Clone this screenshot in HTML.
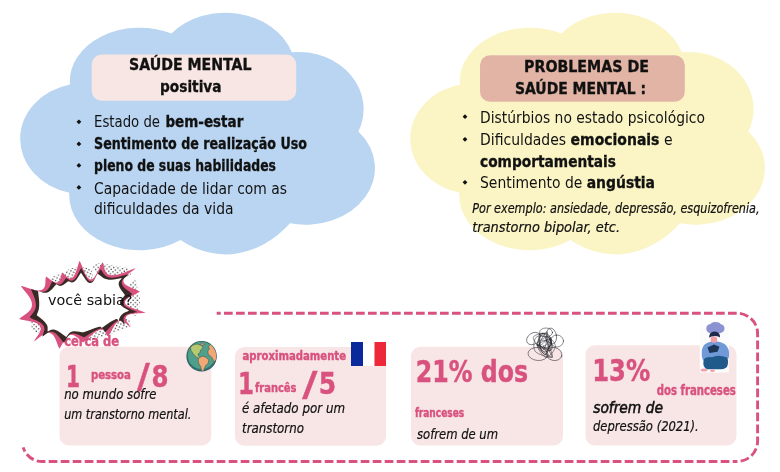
<!DOCTYPE html>
<html><head><meta charset="utf-8">
<style>
html,body{margin:0;padding:0;background:#fff;}
body{width:780px;height:472px;overflow:hidden;position:relative;}
svg{position:absolute;left:0;top:0;}
text{font-family:"DejaVu Sans Condensed","DejaVu Sans","Liberation Sans",sans-serif;fill:#111;}
.b{font-weight:bold;stroke:#111;stroke-width:0.3;}
.i{font-style:italic;stroke:#111;stroke-width:0.2;}
.p{fill:#d9527f;font-weight:bold;stroke:#d9527f;stroke-width:0.4;}
.v{font-family:"DejaVu Sans","Liberation Sans",sans-serif;}
</style></head><body>
<svg width="780" height="472" viewBox="0 0 780 472">
<defs>
<pattern id="dots" width="4.4" height="4.4" patternUnits="userSpaceOnUse"><circle cx="1.1" cy="1.1" r="0.7" fill="#222"/><circle cx="3.3" cy="3.3" r="0.7" fill="#222"/></pattern>
<clipPath id="gc"><circle cx="201.6" cy="356.2" r="14.6"/></clipPath>
<clipPath id="hull"><path d="M22.6,286.2 L47.0,277.3 L62.6,273.4 L79.6,262.0 L101.8,263.4 L133.9,269.2 L138.1,291.8 L143.7,312.4 L129.3,326.7 L107.2,335.5 L83.1,341.2 L60.1,347.3 L35.5,340.1 L21.0,318.6Z"/></clipPath>
</defs>
<!-- clouds -->
<path d="M70.0,84.5 A69.9,53.5 0 0 1 171.5,33.5 A70.0,57.7 0 0 1 291.8,52.2 A65.1,57.2 0 0 1 358.4,131.5 A69.3,56.5 0 0 1 290.0,223.2 A103.3,143.2 0 0 1 180.5,240.0 A70.4,55.1 0 0 1 69.3,192.7 A64.3,55.6 0 0 1 70.0,84.5Z" fill="#b9d5f1"/>
<path d="M70.0,84.5 A69.9,53.5 0 0 1 171.5,33.5 A70.0,57.7 0 0 1 291.8,52.2 A65.1,57.2 0 0 1 358.4,131.5 A69.3,56.5 0 0 1 290.0,223.2 A103.3,143.2 0 0 1 180.5,240.0 A70.4,55.1 0 0 1 69.3,192.7 A64.3,55.6 0 0 1 70.0,84.5Z" transform="translate(390,0)" fill="#fbf5c5"/>
<!-- title boxes -->
<rect x="91.7" y="54.6" width="204.5" height="46.2" rx="10" fill="#f7e6e3"/>
<rect x="480" y="55.3" width="204.8" height="46.4" rx="10" fill="#e1b4a6"/>
<text class="b" font-size="15.2" x="129" y="70" textLength="122.5" lengthAdjust="spacingAndGlyphs">SAÚDE MENTAL</text>
<text class="b" font-size="15.2" x="160" y="91.5" textLength="61.5" lengthAdjust="spacingAndGlyphs">positiva</text>
<text font-size="15.2" x="94" y="127.2" textLength="66.0" lengthAdjust="spacingAndGlyphs">Estado de</text>
<text class="b" font-size="15.2" x="165.4" y="127.2" textLength="77.9" lengthAdjust="spacingAndGlyphs">bem-estar</text>
<text class="b" font-size="15.2" x="94" y="148.8" textLength="213.0" lengthAdjust="spacingAndGlyphs">Sentimento de realização Uso</text>
<text class="b" font-size="15.2" x="94" y="171.2" textLength="182.0" lengthAdjust="spacingAndGlyphs">pleno de suas habilidades</text>
<text font-size="15.2" x="94" y="193.6" textLength="193.0" lengthAdjust="spacingAndGlyphs">Capacidade de lidar com as</text>
<text font-size="15.2" x="94" y="213.6" textLength="139.5" lengthAdjust="spacingAndGlyphs">dificuldades da vida</text>
<text class="b" font-size="15.2" x="524" y="72" textLength="125.0" lengthAdjust="spacingAndGlyphs">PROBLEMAS DE</text>
<text class="b" font-size="15.2" x="515" y="94" textLength="131.0" lengthAdjust="spacingAndGlyphs">SAÚDE MENTAL :</text>
<text font-size="15.2" x="480" y="122.5" textLength="225.0" lengthAdjust="spacingAndGlyphs">Distúrbios no estado psicológico</text>
<text font-size="15.2" x="480" y="145" textLength="192.5" lengthAdjust="spacingAndGlyphs">Dificuldades <tspan class="b">emocionais</tspan> e</text>
<text class="b" font-size="15.2" x="480" y="167" textLength="136.0" lengthAdjust="spacingAndGlyphs">comportamentais</text>
<text font-size="15.2" x="480" y="188" textLength="175.0" lengthAdjust="spacingAndGlyphs">Sentimento de <tspan class="b">angústia</tspan></text>
<text class="i" font-size="13.7" x="472.3" y="212.8" textLength="287.2" lengthAdjust="spacingAndGlyphs">Por exemplo: ansiedade, depressão, esquizofrenia,</text>
<text class="i" font-size="14" x="472.3" y="232.4" textLength="147.7" lengthAdjust="spacingAndGlyphs">transtorno bipolar, etc.</text>
<g fill="#111">
<path d="M78.9,119.4l2.4,2.4l-2.4,2.4l-2.4,-2.4z"/><path d="M78.9,141.5l2.4,2.4l-2.4,2.4l-2.4,-2.4z"/><path d="M78.9,163.0l2.4,2.4l-2.4,2.4l-2.4,-2.4z"/><path d="M78.9,185.0l2.4,2.4l-2.4,2.4l-2.4,-2.4z"/>
<path d="M465,114.3l2.4,2.4l-2.4,2.4l-2.4,-2.4z"/><path d="M465,136.9l2.4,2.4l-2.4,2.4l-2.4,-2.4z"/><path d="M465,179.9l2.4,2.4l-2.4,2.4l-2.4,-2.4z"/>
</g>
<!-- dashed frame -->
<g fill="none" stroke="#d9527f" stroke-width="2.9" stroke-dasharray="8.7 3.3"><path d="M216.7,313.2 H737.1 A20.5,20.5 0 0 1 757.6,333.7 V441 A20.5,20.5 0 0 1 737.1,461.5" stroke-dashoffset="4.7"/><path d="M737.1,461.5 H42 A19.5,19.5 0 0 1 23.2,447.3" stroke-dashoffset="4.3"/></g>
<!-- cards -->
<rect x="59.5" y="346.7" width="151.8" height="98.8" rx="9.5" fill="#f7e6e5"/>
<rect x="235" y="346.9" width="151" height="98.8" rx="9.5" fill="#f7e6e5"/>
<rect x="411" y="346.7" width="152" height="98.8" rx="9.5" fill="#f7e6e5"/>
<rect x="585.5" y="345.3" width="151" height="100.2" rx="9.5" fill="#f7e6e5"/>
<text class="p" font-size="14" x="64.2" y="346.4" textLength="54.8" lengthAdjust="spacingAndGlyphs">cerca de</text>
<text class="p" font-size="29.5" x="66" y="387.2" textLength="14.0" lengthAdjust="spacingAndGlyphs">1</text>
<text class="p" font-size="12.5" x="90.9" y="378.6" textLength="40.0" lengthAdjust="spacingAndGlyphs">pessoa</text>
<text class="p" font-size="34" x="137" y="388.1" textLength="12.8" lengthAdjust="spacingAndGlyphs">/</text>
<text class="p" font-size="29.5" x="151.4" y="387.2" textLength="17.0" lengthAdjust="spacingAndGlyphs">8</text>
<text class="i" font-size="14" x="64.2" y="398.5" textLength="92.3" lengthAdjust="spacingAndGlyphs">no mundo sofre</text>
<text class="i" font-size="14" x="64.2" y="418.6" textLength="127.2" lengthAdjust="spacingAndGlyphs">um transtorno mental.</text>
<text class="p" font-size="12.5" x="242.5" y="360" textLength="103.5" lengthAdjust="spacingAndGlyphs">aproximadamente</text>
<text class="p" font-size="29.5" x="238" y="394" textLength="16.0" lengthAdjust="spacingAndGlyphs">1</text>
<text class="p" font-size="12.5" x="255" y="392" textLength="41.5" lengthAdjust="spacingAndGlyphs">francês</text>
<text class="p" font-size="34" x="302.3" y="395.7" textLength="15.2" lengthAdjust="spacingAndGlyphs">/</text>
<text class="p" font-size="29.5" x="318.8" y="394" textLength="17.4" lengthAdjust="spacingAndGlyphs">5</text>
<text class="i" font-size="14" x="242" y="412.6" textLength="103.0" lengthAdjust="spacingAndGlyphs">é afetado por um</text>
<text class="i" font-size="14" x="242" y="432.5" textLength="62.0" lengthAdjust="spacingAndGlyphs">transtorno</text>
<text class="p" font-size="31" x="415.8" y="381.8" textLength="112.2" lengthAdjust="spacingAndGlyphs">21% dos</text>
<text class="p" font-size="12.5" x="414.9" y="417.4" textLength="49.3" lengthAdjust="spacingAndGlyphs">franceses</text>
<text class="i" font-size="14" x="417" y="439" textLength="81.0" lengthAdjust="spacingAndGlyphs">sofrem de um</text>
<text class="p" font-size="31" x="592.2" y="380.9" textLength="58.0" lengthAdjust="spacingAndGlyphs">13%</text>
<text class="p" font-size="13.5" x="656.8" y="395.3" textLength="79.0" lengthAdjust="spacingAndGlyphs">dos franceses</text>
<text class="i" font-size="15" x="593.2" y="412.7" textLength="69.8" lengthAdjust="spacingAndGlyphs" style="stroke-width:0.5">sofrem de</text>
<text class="i" font-size="13.7" x="593" y="431.2" textLength="105.8" lengthAdjust="spacingAndGlyphs">depressão (2021).</text>
<!-- flag -->
<rect x="351" y="342" width="12" height="24" fill="#0a2a9c"/><rect x="363" y="342" width="11.5" height="24" fill="#fff"/><rect x="374.5" y="342" width="11.5" height="24" fill="#ed2939"/>
<!-- globe -->
<g>
<circle cx="201.6" cy="356.3" r="15.2" fill="#2f5a5c"/>
<circle cx="201.6" cy="356.2" r="14.4" fill="#2f7474"/><circle cx="201.5" cy="355.4" r="13.7" fill="#4f9f8a"/>
<g clip-path="url(#gc)">
<g stroke="#3d4f45" stroke-width="0.5" stroke-linejoin="round">
<path d="M190.5,347.5 l2.5,-2.500 l4,-1 l4.500,1.500 l1.500,2.500 l-2.500,2 l-0.500,2.500 l-2,1.500 l0.500,2 l2,1.500 l-1,1 l-3.500,-1.500 l-3,-3.500 l-2,-3z" fill="#b5c872"/>
<path d="M198.800,358 l3.500,-1.800 l3.500,1 l3,2.800 l-0.500,3 l-2.500,2.500 l-1.500,3 l-0.800,3.200 l-1.800,-0.500 l-1,-4.500 l-2,-3.500 l-0.600,-3z" fill="#f2a875"/>
<path d="M208.500,346.500 l2.500,-2.500 l3.500,1.500 l2.500,4 l0.500,5 l-1,5 l-2.500,2.500 l-1.500,-3.500 l-2,-2.500 l-2.200,-1.500 l-0.500,-3.500 l1.700,-2z" fill="#f2a875"/>
<path d="M200.500,344 l2.500,-1.200 l1.500,1.500 l-2.500,1.200z" fill="#f2a875"/>
</g>
</g>
</g>
<!-- scribble -->
<g fill="none" stroke="#1c1c24" stroke-width="0.5" stroke-linecap="round"><path d="M546.8,335.9 C547.7,337.1 551.9,340.7 551.8,343.0 C551.8,345.3 548.1,349.3 546.3,349.8 C544.5,350.3 542.5,346.9 540.9,346.0 C539.3,345.1 536.5,346.6 536.9,344.5 C537.3,342.3 541.1,331.8 543.2,332.9 C545.3,334.0 548.0,347.1 549.4,351.2 C550.9,355.3 554.2,357.5 551.8,357.6 C549.5,357.6 537.9,354.7 535.3,351.4 C532.7,348.0 533.9,339.6 536.1,337.3 C538.4,335.0 545.5,336.1 548.7,337.6 C551.9,339.2 555.7,343.3 555.3,346.6 C554.9,350.0 549.4,357.7 546.4,357.6 C543.4,357.4 537.7,348.7 537.1,345.6 C536.6,342.4 541.5,339.6 543.1,338.7 C544.6,337.7 544.9,337.1 546.4,340.0 C547.9,343.0 552.8,354.4 552.3,356.3 C551.8,358.2 546.4,354.6 543.2,351.4 C540.0,348.3 532.5,340.3 533.2,337.4 C533.9,334.4 544.5,332.5 547.3,333.7 C550.1,335.0 550.2,341.4 549.9,344.9 C549.7,348.3 547.2,353.7 545.7,354.4 C544.2,355.1 541.9,352.5 540.9,349.0 C539.8,345.6 538.0,335.9 539.6,333.9 C541.1,331.9 548.5,335.3 550.3,337.3 C552.1,339.2 551.7,344.0 550.3,345.8 C548.8,347.5 543.3,348.3 541.6,347.7 C539.8,347.2 539.2,344.9 539.8,342.6 C540.4,340.2 543.8,335.1 545.1,333.5 C546.4,331.9 547.6,330.7 547.6,332.9 C547.6,335.1 546.2,343.9 545.1,346.8 C544.0,349.6 542.1,351.5 541.1,350.1 C540.0,348.7 538.3,341.1 539.0,338.3 C539.6,335.5 543.8,333.9 544.8,333.1"/><path d="M544.3,347.0 C543.6,346.7 540.6,346.7 540.1,345.6 C539.7,344.5 540.4,340.9 541.8,340.3 C543.2,339.8 547.5,340.9 548.5,342.4 C549.5,343.9 548.4,347.1 547.8,349.1 C547.2,351.2 546.5,355.3 544.9,354.6 C543.3,353.9 537.3,347.6 538.1,345.0 C538.9,342.5 547.4,339.8 549.6,339.4 C551.8,339.1 551.1,341.0 551.3,342.9 C551.4,344.8 551.7,350.1 550.3,350.7 C549.0,351.2 543.7,347.0 543.0,346.1 C542.4,345.2 545.0,346.6 546.3,345.1 C547.6,343.7 550.3,337.0 550.8,337.3 C551.3,337.7 550.4,345.5 549.3,347.3 C548.1,349.1 546.0,348.7 544.0,348.2 C542.0,347.8 537.5,345.1 537.1,344.6 C536.7,344.0 539.5,345.8 541.4,344.8 C543.3,343.9 546.8,338.4 548.6,339.0 C550.4,339.7 553.3,346.4 552.3,348.6 C551.2,350.8 544.0,351.6 542.4,352.1"/><ellipse cx="533.5" cy="338.5" rx="7.5" ry="5.5" transform="rotate(-35 533.5 338.5)"/><ellipse cx="557.0" cy="341.0" rx="6.5" ry="6.0" transform="rotate(0 557.0 341.0)"/><ellipse cx="538.0" cy="354.0" rx="10.0" ry="6.5" transform="rotate(5 538.0 354.0)"/><ellipse cx="554.0" cy="354.0" rx="8.0" ry="6.5" transform="rotate(15 554.0 354.0)"/><ellipse cx="546.0" cy="332.5" rx="6.5" ry="4.5" transform="rotate(0 546.0 332.5)"/><ellipse cx="551.5" cy="336.0" rx="5.0" ry="8.0" transform="rotate(-10 551.5 336.0)"/></g>
<!-- person -->
<g>
<rect x="699.8" y="321.2" width="29" height="51.3" fill="#fdfcfd"/>
<path d="M706.3,328.5 Q706.3,324.5 710.5,324 Q712,321.8 715.5,322 Q719.5,322 721,324.3 Q724.6,325 724.5,328.8 Q724.2,332.5 720,333.2 L710.5,333.4 Q706.5,332.8 706.3,328.5Z" fill="#8a92d2"/>
<path d="M701.8,352 Q702,342 714,341.2 Q727.5,341.5 729,352 Q730,360.5 724,361.5 L705,361.5 Q701.3,360.5 701.8,352Z" fill="#7099d8"/>
<circle cx="713.9" cy="339.6" r="3.3" fill="#f2a0a8"/>
<path d="M709.2,337.8 Q708.8,332 714.6,331.6 Q720.4,332 720,337.6 Q718,335.6 714.5,336 Q711,336 709.2,337.8Z" fill="#1f2a4a"/>
<path d="M707.5,347.5 l6.5,-3 l5.5,2.2 l-2,5 l-8,1.2z" fill="#1d3557"/>
<path d="M703.5,361 Q704,356.5 712,357.2 Q718,354 727,357.5 Q728.5,360 727.8,364.5 Q727,369.5 720,369.3 L707,369.3 Q702.5,367.5 703.5,361Z" fill="#1f5a8a"/>
<ellipse cx="704" cy="370" rx="3.4" ry="1.6" fill="#f2a0a8"/>
<ellipse cx="712.5" cy="370.8" rx="2.4" ry="1.2" fill="#f2a0a8"/>
</g>
<!-- burst -->
<g>
<g clip-path="url(#hull)">
<ellipse cx="70" cy="280" rx="24" ry="11" fill="url(#dots)" transform="rotate(-18 70 280)"/>
<ellipse cx="112" cy="270" rx="20" ry="7" fill="url(#dots)" transform="rotate(8 112 270)"/>
<ellipse cx="134" cy="298" rx="6" ry="18" fill="url(#dots)"/>
<ellipse cx="108" cy="330" rx="24" ry="9" fill="url(#dots)" transform="rotate(-20 108 330)"/>
<ellipse cx="38" cy="325" rx="7" ry="8" fill="url(#dots)"/>
</g>
<path d="M20.8,285.7 C27.0,287.0 36.0,292.0 41.5,290.0 C47.0,288.0 44.6,280.6 46.0,276.5 C49.4,278.3 53.9,283.4 57.4,282.5 C60.9,281.6 60.7,275.5 62.1,272.5 C65.1,274.1 68.4,280.4 72.2,277.8 C76.0,275.2 77.4,265.9 79.6,260.8 C82.9,266.4 85.6,279.1 90.6,279.4 C95.6,279.7 98.9,267.4 102.5,262.2 C105.0,266.1 103.4,273.8 110.7,275.1 C118.0,276.4 128.1,270.3 135.6,268.2 C131.9,272.2 122.5,276.4 123.4,281.5 C124.3,286.6 135.0,288.5 139.9,291.5 C135.4,294.9 123.7,298.3 125.0,303.0 C126.3,307.7 139.5,309.8 145.7,312.7 C140.0,313.7 129.9,312.6 126.6,315.9 C123.3,319.2 129.5,324.0 130.8,327.5 C127.3,325.6 124.2,319.2 119.2,321.2 C114.2,323.2 111.4,331.9 108.0,336.5 C105.6,334.5 105.5,328.4 100.0,329.7 C94.5,331.0 88.2,338.6 83.2,342.4 C79.2,340.2 75.2,333.6 70.0,335.0 C64.8,336.4 62.6,344.6 59.5,348.7 C56.6,344.0 55.6,334.6 50.0,333.0 C44.4,331.4 38.9,338.8 34.1,341.3 C35.9,336.7 43.3,330.9 40.0,326.0 C36.7,321.1 25.4,321.2 19.2,319.1 C23.0,314.9 31.6,312.3 32.0,305.0 C32.4,297.7 24.2,291.5 20.8,285.7Z" fill="#d9527f"/>
<path d="M31.1,289.1 C35.2,289.9 40.1,293.2 44.8,291.5 C49.5,289.8 50.2,284.4 52.5,281.3 C54.7,282.3 56.7,285.2 59.8,284.5 C62.8,283.7 64.3,279.9 66.2,277.9 C68.4,278.6 70.4,282.2 73.7,280.1 C76.9,277.9 78.8,271.6 81.1,268.0 C84.0,272.1 86.7,281.3 91.0,281.6 C95.2,281.8 97.7,272.9 100.5,269.2 C103.3,271.7 103.7,276.4 109.9,277.5 C116.0,278.6 123.0,275.2 128.7,274.3 C126.6,277.0 121.0,279.2 121.8,283.5 C122.6,287.9 129.2,290.9 132.3,294.1 C129.6,297.0 122.2,299.8 123.3,303.7 C124.4,307.7 133.1,309.6 137.2,312.1 C133.5,313.2 127.6,313.1 124.8,315.9 C122.0,318.6 124.6,322.0 124.6,324.7 C122.6,323.5 122.1,319.2 117.8,320.8 C113.6,322.5 109.0,328.9 105.2,332.3 C103.6,331.3 104.4,327.7 99.8,328.8 C95.2,329.9 88.8,334.8 84.1,337.3 C80.4,336.3 76.0,332.6 71.6,333.8 C67.2,335.0 66.3,340.0 64.0,342.7 C60.6,339.5 57.5,333.3 52.8,331.9 C48.1,330.6 45.5,335.1 42.4,336.4 C42.7,333.1 46.2,329.5 43.4,325.4 C40.6,321.2 33.8,319.9 29.7,317.5 C31.6,314.0 35.6,311.9 35.9,305.6 C36.2,299.4 32.5,294.1 31.1,289.1Z" fill="#3a2a25"/>
<path d="M38.0,290.9 C40.8,291.3 43.5,293.8 47.5,292.4 C51.6,290.9 53.7,286.6 56.4,284.2 C57.9,284.7 58.8,286.5 61.3,285.8 C63.9,285.2 66.1,282.6 68.1,281.3 C70.0,281.4 71.4,283.6 74.2,281.7 C77.0,279.9 78.9,275.4 80.9,272.7 C83.7,275.8 86.5,282.9 90.2,283.1 C93.9,283.4 95.4,276.6 97.6,273.7 C100.7,275.4 102.4,278.4 107.7,279.4 C113.0,280.4 117.6,278.5 121.8,278.1 C120.9,280.2 118.1,281.2 118.8,285.0 C119.4,288.7 123.1,292.1 124.9,295.1 C123.5,297.7 119.2,300.3 120.2,303.7 C121.1,307.1 126.5,308.5 129.2,310.6 C126.9,311.9 123.9,312.5 121.5,314.9 C119.1,317.3 119.3,319.5 118.3,321.4 C117.3,320.8 118.8,318.1 115.1,319.5 C111.4,320.9 105.7,325.4 101.6,328.0 C100.7,327.7 102.4,326.0 98.4,326.9 C94.4,327.8 88.0,330.7 83.5,332.3 C80.2,332.1 76.1,330.5 72.3,331.5 C68.5,332.5 68.1,335.3 66.2,336.9 C62.8,334.8 59.0,331.0 54.9,329.8 C50.8,328.6 49.9,331.0 47.7,331.5 C47.2,329.1 48.6,327.2 46.2,323.7 C43.8,320.1 39.6,317.8 36.8,315.3 C37.5,312.3 39.0,310.8 39.2,305.4 C39.5,300.0 38.4,295.3 38.0,290.9Z" fill="#fff"/>
<text class="v" font-size="14.5" x="48" y="305.3" textLength="84.5" lengthAdjust="spacingAndGlyphs">você sabia?</text>
</g>
</svg>
</body></html>
